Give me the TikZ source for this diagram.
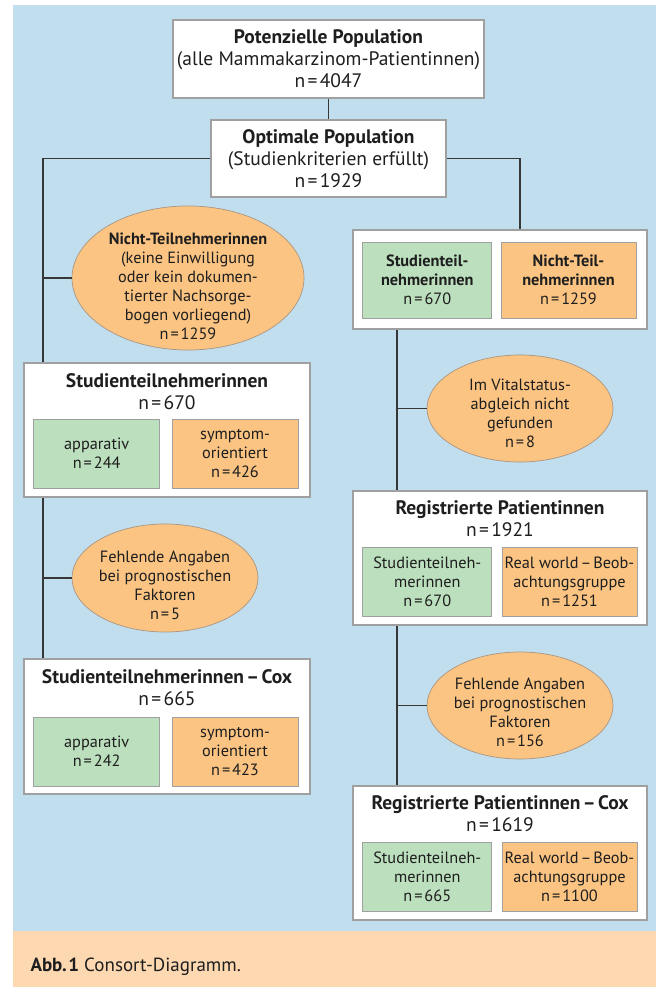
\documentclass[tikz,border=0pt]{standalone}
\usepackage{fontspec}
\setmainfont{PT Sans}
\usepackage{tikz}
\usetikzlibrary{shapes}
\usetikzlibrary{calc}
\usetikzlibrary{positioning}

\definecolor{bgblue}{RGB}{193,222,238}
\definecolor{bgpeach}{RGB}{253,216,177}
\definecolor{grn}{RGB}{188,223,190}
\definecolor{org}{RGB}{251,196,131}
\definecolor{boxgray}{RGB}{160,160,160}
\definecolor{ovalgray}{RGB}{170,150,130}
\definecolor{linegray}{RGB}{55,55,55}
\definecolor{txt}{RGB}{30,30,30}
\newcommand{\eq}{\kern0.12em=\kern0.12em}

\begin{document}
\begin{tikzpicture}[x=1pt, y=-1pt, every node/.style={text=txt},
  bigbox/.style={draw=boxgray, line width=1.3pt, fill=white, inner sep=0pt},
  subbox/.style={draw=boxgray, line width=1pt, inner sep=0pt, align=center, font=\fontsize{16.3}{19}\selectfont},
  grnbox/.style={subbox, fill=grn},
  orgbox/.style={subbox, fill=org},
  oval/.style={ellipse, draw=ovalgray, line width=0.7pt, fill=org, inner sep=0pt},
  ovaltext/.style={align=center, font=\fontsize{16.3}{19}\selectfont},
  title/.style={align=center, font=\fontsize{19.5}{22}\selectfont},
  link/.style={draw=linegray, line width=1.3pt}]
%background
\fill[bgblue] (13,5) rectangle (656,931);
\fill[bgpeach] (13,931) rectangle (656,987);
\useasboundingbox (0,0) rectangle (656,987);

%top
\node[bigbox, title, minimum width=311pt, minimum height=78pt] (pot) at (328.5,59)
  {\textbf{Potenzielle Population}\\(alle Mammakarzinom-Patientinnen)\\n\eq4047};
\node[bigbox, title, minimum width=235pt, minimum height=77pt] (opt) at (328.5,158.5)
  {\textbf{Optimale Population}\\(Studienkriterien erfüllt)\\n\eq1929};
\coordinate (lspine) at (43,159);
\coordinate (rspine) at (397,330);

%left branch
\node[oval, minimum width=232pt, minimum height=144pt] (nicht) at (188,278) {};
\node[ovaltext] (nichttxt) at (188,286.5)
  {\textbf{Nicht-Teilnehmerinnen}\\(keine Einwilligung\\oder kein dokumen-\\tierter Nachsorge-\\bogen vorliegend)\\n\eq1259};

\node[bigbox, minimum width=286pt, minimum height=134pt] (teil) at (167,430) {};
\node[title] (teiltitle) at (167,392) {\textbf{Studienteilnehmerinnen}\\n\eq670};
\node[grnbox, minimum width=126pt, minimum height=69pt] (teilapp) at (96.7,453.5) {apparativ\\n\eq244};
\node[orgbox, minimum width=126pt, minimum height=69pt] (teilsym) at (235,453.5) {symptom-\\orientiert\\n\eq426};

\node[oval, minimum width=186pt, minimum height=108pt] (fehl) at (165,578) {};
\node[ovaltext] (fehltxt) at (165,585) {Fehlende Angaben\\bei prognostischen\\Faktoren\\n\eq5};

\node[bigbox, minimum width=286pt, minimum height=135pt] (cox) at (167,726.5) {};
\node[title] (coxtitle) at (167,688) {\textbf{Studienteilnehmerinnen\kern0.12em--\kern0.12em Cox}\\n\eq665};
\node[grnbox, minimum width=126pt, minimum height=69pt] (coxapp) at (96.7,751.5) {apparativ\\n\eq242};
\node[orgbox, minimum width=126pt, minimum height=69pt] (coxsym) at (235,751.5) {symptom-\\orientiert\\n\eq423};

%right branch
\node[bigbox, minimum width=294pt, minimum height=99pt] (rsplit) at (500,279.5) {};
\node[grnbox, minimum width=129pt, minimum height=76pt] (rteil) at (427.3,280)
  {\textbf{Studienteil-}\\\textbf{nehmerinnen}\\n\eq670};
\node[orgbox, minimum width=135pt, minimum height=76pt] (rnicht) at (568.5,280)
  {\textbf{Nicht-Teil-}\\\textbf{nehmerinnen}\\n\eq1259};

\node[oval, minimum width=186pt, minimum height=107pt] (vital) at (520,408.5) {};
\node[ovaltext] (vitaltxt) at (520,413) {Im Vitalstatus-\\abgleich nicht\\gefunden\\n\eq8};

\node[bigbox, minimum width=294pt, minimum height=134pt] (reg) at (500,558) {};
\node[title] (regtitle) at (500,518.5) {\textbf{Registrierte Patientinnen}\\n\eq1921};
\node[grnbox, minimum width=129pt, minimum height=69pt] (regteil) at (427.3,581.5) {Studienteilneh-\\merinnen\\n\eq670};
\node[orgbox, minimum width=135pt, minimum height=69pt] (regreal) at (569.5,581.5) {Real world\kern0.12em--\kern0.12em Beob-\\achtungsgruppe\\n\eq1251};

\node[oval, minimum width=186pt, minimum height=107pt] (fehlr) at (520,705.5) {};
\node[ovaltext] (fehlrtxt) at (520,712.5) {Fehlende Angaben\\bei prognostischen\\Faktoren\\n\eq156};

\node[bigbox, minimum width=294pt, minimum height=134pt] (regcox) at (500,853) {};
\node[title] (regcoxtitle) at (500,813.5) {\textbf{Registrierte Patientinnen\kern0.12em--\kern0.12em Cox}\\n\eq1619};
\node[grnbox, minimum width=129pt, minimum height=69pt] (regcoxteil) at (427.3,876.5) {Studienteilneh-\\merinnen\\n\eq665};
\node[orgbox, minimum width=135pt, minimum height=69pt] (regcoxreal) at (569.5,876.5) {Real world\kern0.12em--\kern0.12em Beob-\\achtungsgruppe\\n\eq1100};

%connectors
\draw[link] (pot) -- (opt);
\draw[link] (opt.west) -| (teil.north -| lspine);
\draw[link] (teil.south -| lspine) -- (cox.north -| lspine);
\draw[link] (nicht.west) -- (nicht.west -| lspine);
\draw[link] (fehl.west) -- (fehl.west -| lspine);
\draw[link] (opt.east) -| ([xshift=20pt]rsplit.north);
\draw[link] (rsplit.south -| rspine) -- (reg.north -| rspine);
\draw[link] (reg.south -| rspine) -- (regcox.north -| rspine);
\draw[link] (vital.west) -- (vital.west -| rspine);
\draw[link] (fehlr.west) -- (fehlr.west -| rspine);

%caption
\node[anchor=west, font=\fontsize{19}{22}\selectfont] (cap) at (27,967) {\textbf{Abb.\kern0.08em1} Consort-Diagramm.};
\end{tikzpicture}
\end{document}
